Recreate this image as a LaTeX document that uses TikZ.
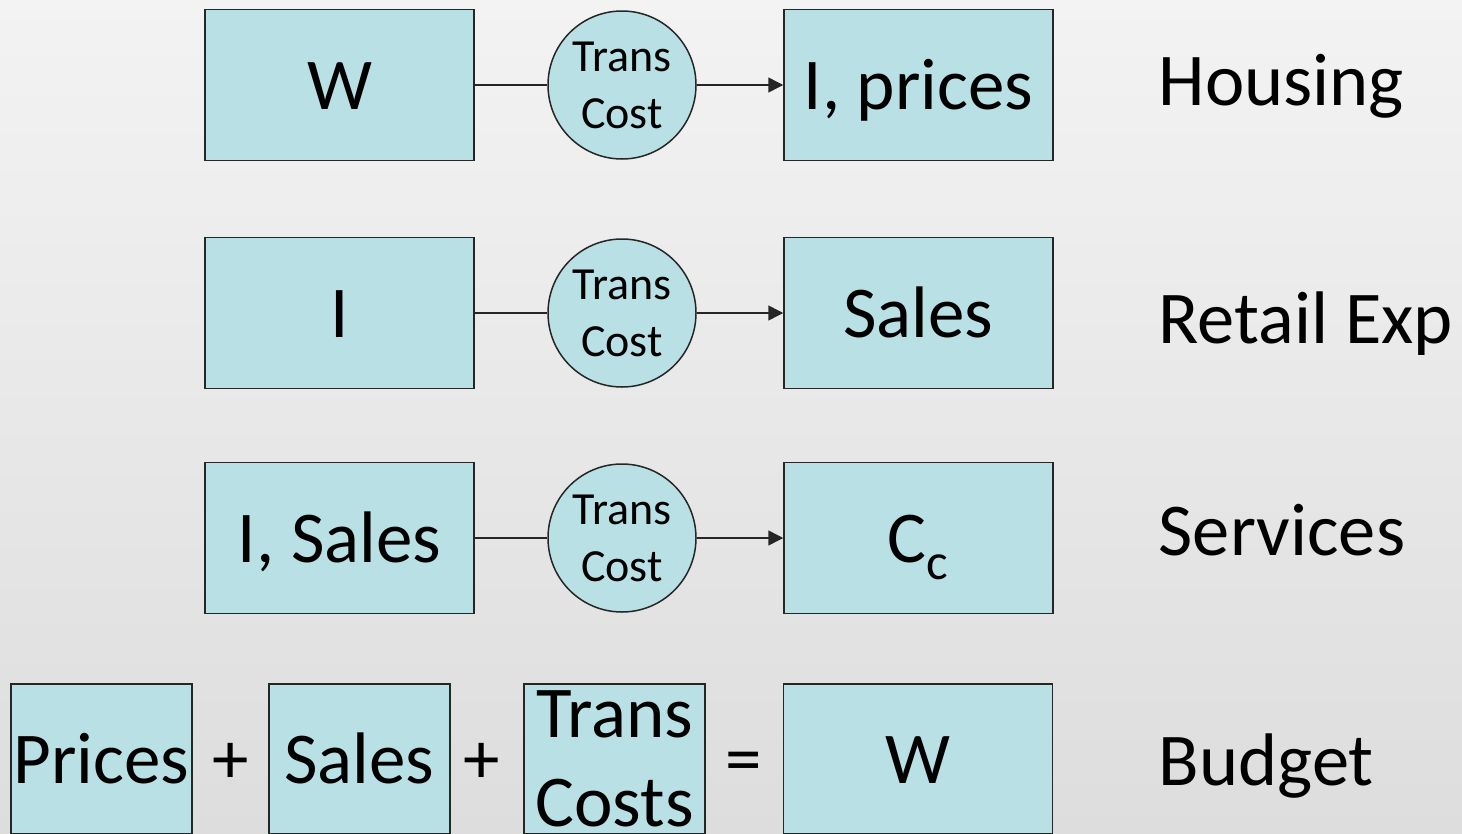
\documentclass[tikz,border=0pt]{standalone}
\usepackage{fontspec}
\setmainfont{Carlito}
\usetikzlibrary{arrows.meta}

\definecolor{boxblue}{RGB}{185,224,228}
\definecolor{bgtop}{RGB}{243,243,243}
\definecolor{bgbot}{RGB}{221,221,221}

\tikzset{every picture/.style={line width=1.5pt}}
\tikzset{
  bigtext/.style={font=\fontsize{73}{89}\selectfont},
  cellbox/.style={draw=black!85,fill=boxblue,inner sep=0pt,bigtext,
    text height=69.5pt,text depth=19.6pt},
  costdisc/.style={draw=black!85,fill=boxblue,circle,minimum size=148pt,inner sep=0pt,
    align=center,font=\fontsize{46}{57}\selectfont},
  sumsign/.style={inner sep=0pt,bigtext,text height=69.5pt,text depth=19.6pt},
  rowlabel/.style={anchor=base west,inner sep=0pt,font=\fontsize{74.5}{89}\selectfont},
  feeds/.style={draw=black!85,-{Triangle[length=15pt,width=15pt]}}
}

\begin{document}
\begin{tikzpicture}[x=1pt,y=1pt,yscale=-1]
%set diagram to 1462 x 833
\useasboundingbox (0,0) rectangle (1462,833);
\shade[top color=bgtop,bottom color=bgbot] (0,833) rectangle (1462,0);

%Housing row
\draw (339.5,85) node [cellbox,minimum width=269pt,minimum height=151pt] (hW) {W};
\draw (622,85) node [costdisc] (hT) {Trans\\Cost};
\draw (918.5,85) node [cellbox,minimum width=269pt,minimum height=151pt] (hI) {I, prices};
\draw[draw=black!85] (hW) -- (hT);
\draw[feeds] (hT) -- (hI);

%Retail row
\draw (339.5,313) node [cellbox,minimum width=269pt,minimum height=151pt] (rI) {I};
\draw (622,313) node [costdisc] (rT) {Trans\\Cost};
\draw (918.5,313) node [cellbox,minimum width=269pt,minimum height=151pt] (rS) {Sales};
\draw[draw=black!85] (rI) -- (rT);
\draw[feeds] (rT) -- (rS);

%Services row
\draw (339.5,538) node [cellbox,minimum width=269pt,minimum height=151pt] (sI) {I, Sales};
\draw (622,538) node [costdisc] (sT) {Trans\\Cost};
\draw (918.5,538) node [cellbox,minimum width=269pt,minimum height=151pt] (sC) {C\textsubscript{c}};
\draw[draw=black!85] (sI) -- (sT);
\draw[feeds] (sT) -- (sC);

%Budget row
\draw (101.5,759) node [cellbox,minimum width=181pt,minimum height=150pt] (bP) {Prices};
\draw (231,759) node [sumsign] (bp1) {+};
\draw (359.5,759) node [cellbox,minimum width=181pt,minimum height=150pt] (bS) {Sales};
\draw (482,759) node [sumsign] (bp2) {+};
\draw (614.5,759) node [cellbox,minimum width=181pt,minimum height=150pt,
  align=center,text height=,text depth=] (bT) {Trans\\Costs};
\draw (743.5,759) node [sumsign] (beq) {=};
\draw (918,759) node [cellbox,minimum width=269pt,minimum height=150pt] (bW) {W};

% Text Node
\draw (1158,105) node [rowlabel] (lh) {Housing};
% Text Node
\draw (1158,343) node [rowlabel] (lr) {Retail Exp};
% Text Node
\draw (1158,555) node [rowlabel] (ls) {Services};
% Text Node
\draw (1158,785) node [rowlabel] (lb) {Budget};

\end{tikzpicture}
\end{document}
